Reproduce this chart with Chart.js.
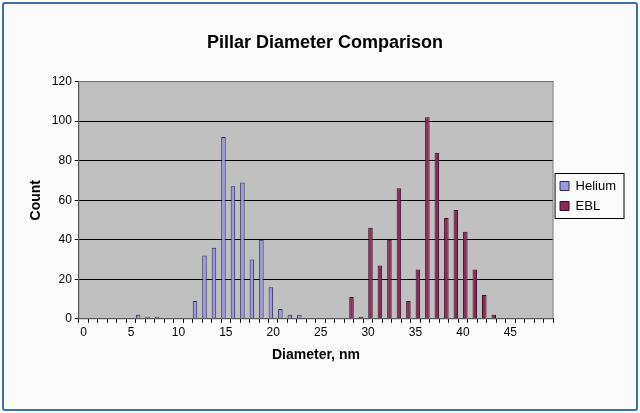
<!DOCTYPE html>
<html>
<head>
<meta charset="utf-8">
<script src="https://cdn.jsdelivr.net/npm/chart.js@4"></script>
<style>
  html, body { margin: 0; padding: 0; background: #fff; }
  #frame { position: absolute; left: 2px; top: 2px; width: 632px; height: 405px; border: 2px solid #3d6fae; border-radius: 3px; background: #fbfbfb; }
  #wrap { position: absolute; left: 6px; top: 14px; width: 622px; height: 380px; }
</style>
</head>
<body>
<div id="frame"><div id="wrap"><canvas id="myChart"></canvas></div></div>
<script>
const diameters = [];
for (let d = 0; d <= 49; d++) diameters.push(d);

// counts per diameter (nm)
const heliumCounts = {6: 2, 7: 1, 8: 1, 12: 9, 13: 32, 14: 36, 15: 92, 16: 67, 17: 69, 18: 30, 19: 40, 20: 16, 21: 5, 22: 2, 23: 2};
const eblCounts = {28: 11, 29: 1, 30: 46, 31: 27, 32: 40, 33: 66, 34: 9, 35: 25, 36: 102, 37: 84, 38: 51, 39: 55, 40: 44, 41: 25, 42: 12, 43: 2};

const helium = diameters.map(d => heliumCounts[d] ?? 0);
const ebl = diameters.map(d => eblCounts[d] ?? 0);

const plotBackground = {
    id: 'plotBackground',
    beforeDraw(chart) {
        const {ctx, chartArea: a} = chart;
        ctx.save();
        ctx.fillStyle = '#c0c0c0';
        ctx.fillRect(a.left, a.top, a.right - a.left, a.bottom - a.top);
        ctx.restore();
    },
    afterDraw(chart) {
        const {ctx, chartArea: a} = chart;
        ctx.save();
        ctx.strokeStyle = '#808080';
        ctx.lineWidth = 1;
        ctx.strokeRect(a.left, a.top, a.right - a.left, a.bottom - a.top);
        const boxes = chart.legend.legendHitBoxes;
        if (boxes.length) {
            const l = Math.min(...boxes.map(b => b.left)) - 5;
            const t = Math.min(...boxes.map(b => b.top)) - 6;
            const r = Math.max(...boxes.map(b => b.left + b.width)) + 8;
            const bt = Math.max(...boxes.map(b => b.top + b.height)) + 6;
            ctx.strokeStyle = '#000';
            ctx.strokeRect(l, t, r - l, bt - t);
        }
        ctx.restore();
    }
};

const data = {
    labels: diameters,
    datasets: [{
        label: 'Helium',
        data: helium,
        backgroundColor: '#9a9ade',
        borderColor: '#2b2b55',
        borderWidth: 1
    }, {
        label: 'EBL',
        data: ebl,
        backgroundColor: '#8a2a5a',
        borderColor: '#3a0a22',
        borderWidth: 1
    }]
};

const config = {
    type: 'bar',
    data: data,
    options: {
        responsive: true,
        maintainAspectRatio: false,
        animation: false,
        layout: { padding: { left: 14, right: 6, top: 6, bottom: 30 } },
        datasets: { bar: { barPercentage: 0.95, categoryPercentage: 1.0 } },
        plugins: {
            title: {
                display: true,
                text: 'Pillar Diameter Comparison',
                color: '#000',
                font: { family: 'Arial, Liberation Sans', size: 18, weight: 'bold' },
                padding: { top: 8, bottom: 28 }
            },
            legend: {
                position: 'right',
                labels: {
                    color: '#000',
                    font: { family: 'Arial, Liberation Sans', size: 13 },
                    boxWidth: 9, boxHeight: 9, padding: 7
                }
            },
            tooltip: { enabled: false }
        },
        scales: {
            x: {
                grid: { display: true, drawOnChartArea: false, color: '#000', tickLength: 4 },
                border: { color: '#000' },
                ticks: {
                    autoSkip: false, maxRotation: 0, color: '#000',
                    font: { family: 'Arial, Liberation Sans', size: 12 },
                    callback: (v, i) => (diameters[i] % 5 === 0 ? String(diameters[i]) : '')
                },
                title: {
                    display: true, text: 'Diameter, nm', color: '#000',
                    font: { family: 'Arial, Liberation Sans', size: 14, weight: 'bold' }
                }
            },
            y: {
                min: 0, max: 120,
                grid: { color: '#000', drawTicks: true, tickLength: 4 },
                border: { color: '#000' },
                ticks: { stepSize: 20, color: '#000', font: { family: 'Arial, Liberation Sans', size: 12 } },
                title: {
                    display: true, text: 'Count', color: '#000',
                    font: { family: 'Arial, Liberation Sans', size: 14, weight: 'bold' }
                }
            }
        }
    },
    plugins: [plotBackground]
};

const myChart = new Chart(document.getElementById('myChart'), config);
</script>
</body>
</html>
